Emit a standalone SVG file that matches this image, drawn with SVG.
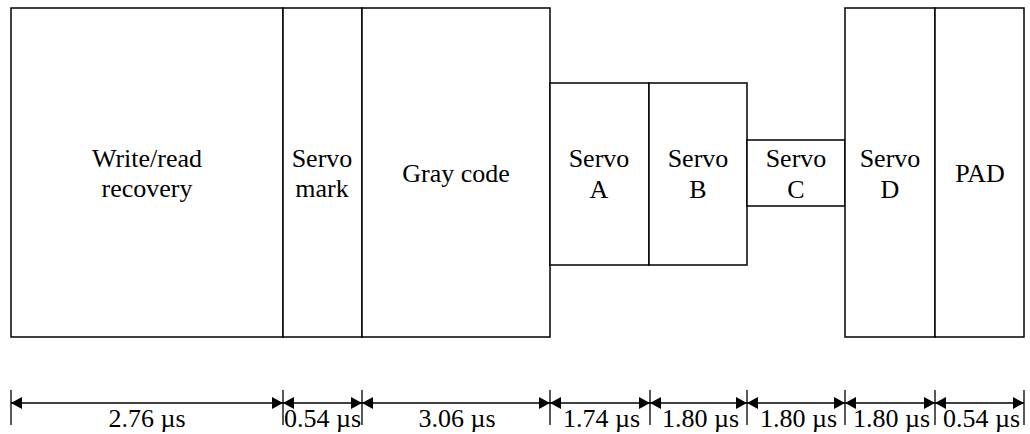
<svg xmlns="http://www.w3.org/2000/svg" width="1030" height="434" viewBox="0 0 1030 434">
<style>
.box{fill:#fff;stroke:#000;stroke-width:1.5}
.t{font-family:'Liberation Serif','Times New Roman','DejaVu Serif',serif;font-size:26px;fill:#000}
.c{text-anchor:middle}
.dim{stroke:#000;stroke-width:1.3;fill:none}
</style>
<defs>
<marker id="ah" viewBox="0 0 11 12" refX="11" refY="6" markerWidth="11" markerHeight="12" markerUnits="userSpaceOnUse" orient="auto-start-reverse">
<path d="M0,0 L11,6 L0,12 Z" fill="#000"/>
</marker>
</defs>
<rect width="1030" height="434" fill="#fff"/>
<g id="n-write"><rect class="box" x="11" y="8" width="272" height="329"/>
<text class="t c" font-family="Liberation Serif, serif" x="147" y="167">Write/read</text><text class="t c" font-family="Liberation Serif, serif" x="147" y="197">recovery</text></g>
<g id="n-mark"><rect class="box" x="283" y="8" width="79" height="329"/>
<text class="t c" font-family="Liberation Serif, serif" x="322" y="167">Servo</text><text class="t c" font-family="Liberation Serif, serif" x="322" y="197">mark</text></g>
<g id="n-gray"><rect class="box" x="362" y="8" width="188" height="329"/>
<text class="t c" font-family="Liberation Serif, serif" x="456" y="182">Gray code</text></g>
<g id="n-a"><rect class="box" x="550" y="83" width="99" height="182"/>
<text class="t c" font-family="Liberation Serif, serif" x="599" y="167">Servo</text><text class="t c" font-family="Liberation Serif, serif" x="599" y="198">A</text></g>
<g id="n-b"><rect class="box" x="649" y="83" width="98" height="182"/>
<text class="t c" font-family="Liberation Serif, serif" x="698" y="167">Servo</text><text class="t c" font-family="Liberation Serif, serif" x="698" y="198">B</text></g>
<g id="n-c"><rect class="box" x="747" y="140" width="98" height="66"/>
<text class="t c" font-family="Liberation Serif, serif" x="796" y="167">Servo</text><text class="t c" font-family="Liberation Serif, serif" x="796" y="198">C</text></g>
<g id="n-d"><rect class="box" x="845" y="8" width="90" height="329"/>
<text class="t c" font-family="Liberation Serif, serif" x="890" y="167">Servo</text><text class="t c" font-family="Liberation Serif, serif" x="890" y="198">D</text></g>
<g id="n-pad"><rect class="box" x="935" y="8" width="89" height="329"/>
<text class="t c" font-family="Liberation Serif, serif" x="980" y="182">PAD</text></g>
<g id="connectors">
<path class="dim" d="M11,390V425M283,390V425M362,390V425M550,390V425M650,390V425M747,390V425M845,390V425M935,390V425M1024,390V425"/>
<line class="dim" x1="11" y1="403" x2="283" y2="403" marker-start="url(#ah)" marker-end="url(#ah)"/>
<line class="dim" x1="283" y1="403" x2="362" y2="403" marker-start="url(#ah)" marker-end="url(#ah)"/>
<line class="dim" x1="362" y1="403" x2="550" y2="403" marker-start="url(#ah)" marker-end="url(#ah)"/>
<line class="dim" x1="550" y1="403" x2="650" y2="403" marker-start="url(#ah)" marker-end="url(#ah)"/>
<line class="dim" x1="650" y1="403" x2="747" y2="403" marker-start="url(#ah)" marker-end="url(#ah)"/>
<line class="dim" x1="747" y1="403" x2="845" y2="403" marker-start="url(#ah)" marker-end="url(#ah)"/>
<line class="dim" x1="845" y1="403" x2="935" y2="403" marker-start="url(#ah)" marker-end="url(#ah)"/>
<line class="dim" x1="935" y1="403" x2="1024" y2="403" marker-start="url(#ah)" marker-end="url(#ah)"/>
</g>
<g id="labels">
<text class="t c" font-family="Liberation Serif, serif" x="147" y="427">2.76 µs</text>
<text class="t" font-family="Liberation Serif, serif" x="284" y="427">0.54 µs</text>
<text class="t c" font-family="Liberation Serif, serif" x="457" y="427">3.06 µs</text>
<text class="t" font-family="Liberation Serif, serif" x="563" y="427">1.74 µs</text>
<text class="t" font-family="Liberation Serif, serif" x="662" y="427">1.80 µs</text>
<text class="t" font-family="Liberation Serif, serif" x="760" y="427">1.80 µs</text>
<text class="t" font-family="Liberation Serif, serif" x="853" y="427">1.80 µs</text>
<text class="t" font-family="Liberation Serif, serif" x="943" y="427">0.54 µs</text>
</g>
</svg>
